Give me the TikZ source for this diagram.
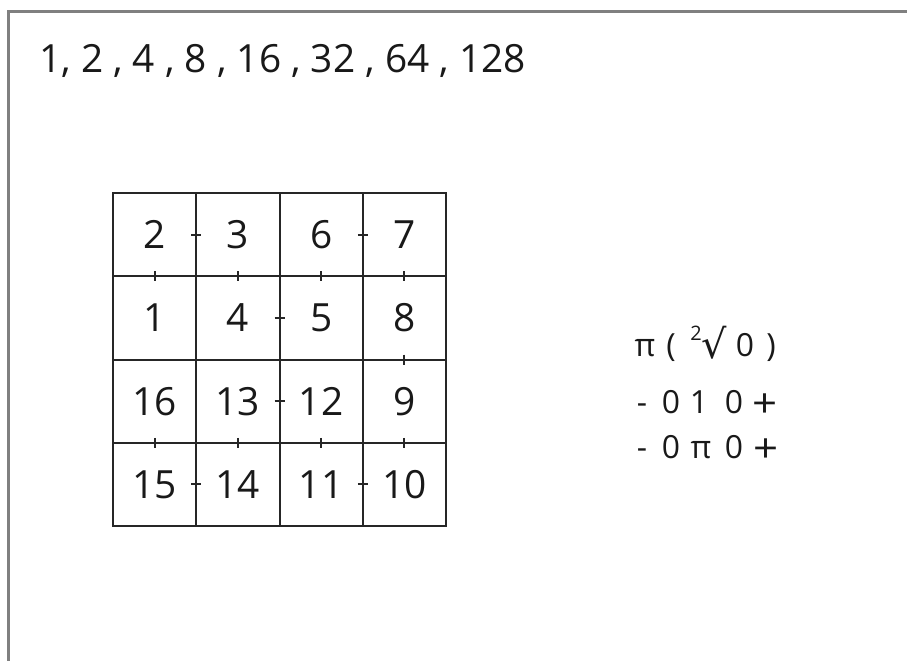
\documentclass[tikz,border=0pt]{standalone}
\usepackage{fontspec}
\usetikzlibrary{calc}
\setmainfont{Open Sans}
\newfontfamily\dejavu{DejaVu Sans}
\begin{document}
\begin{tikzpicture}[x=1bp,y=-1bp,
  cell/.style={draw=black!85,line width=2bp,minimum size=83.25bp,inner sep=0,outer sep=0,
     font=\fontsize{39}{39}\selectfont,text=black!90},
  tick/.style={draw=black!85,line width=2bp},
  frame/.style={draw=black!50,line width=2.8bp},
  bigtext/.style={font=\fontsize{39}{39}\selectfont,text=black!90,inner sep=0,anchor=base west},
  glyph/.style={font=\fontsize{32}{32}\selectfont,text=black!90,inner sep=0,anchor=base},
  plus/.style={font=\fontsize{40}{40}\selectfont,text=black!90,inner sep=0,anchor=base,xscale=1.1}]
\useasboundingbox (0,0) rectangle (907,661);
\fill[white] (0,0) rectangle (907,661);
\draw[frame] (8.5,670) -- (8.5,11.5) -- (915,11.5);
\node[bigtext] (seq) at (39,73) {1, 2 , 4 , 8 , 16 , 32 , 64 , 128};
% grid
\def\cs{83.25}
\foreach \r/\row in {0/{2,3,6,7},1/{1,4,5,8},2/{16,13,12,9},3/{15,14,11,10}}{
  \foreach \v [count=\c from 0] in \row {
    \node[cell] (c\r\c) at ({113+\cs*(\c+0.5)},{193+\cs*(\r+0.5)}) {\v};
  }
}
% ticks on vertical borders (horizontal marks)
\foreach \a in {c00,c02,c11,c21,c30,c32}{
  \draw[tick] ($(\a.east)+(-5,0)$) -- ($(\a.east)+(5,0)$);
}
% ticks on horizontal borders (vertical marks)
\foreach \a in {c00,c01,c02,c03,c13,c20,c21,c22,c23}{
  \draw[tick] ($(\a.south)+(0,-5)$) -- ($(\a.south)+(0,5)$);
}
% right-hand formulas
\node[glyph] (p1) at (645,356) {π};
\node[glyph] (p2) at (671,356) {(};
\node[glyph,font=\fontsize{20}{20}\selectfont] (p3) at (696,340) {2};
\node[glyph,font=\dejavu\fontsize{40}{40}\selectfont] (p4) at (714,358) {√};
\node[glyph] (p5) at (745,356) {0};
\node[glyph] (p6) at (771,356) {)};
\node[glyph] (a1) at (642,413) {-};
\node[glyph] (a2) at (671,413) {0};
\node[glyph] (a3) at (699,413) {1};
\node[glyph] (a4) at (734,413) {0};
\node[plus] (a5) at (765,417) {+};
\node[glyph] (b1) at (642,458) {-};
\node[glyph] (b2) at (671,458) {0};
\node[glyph] (b3) at (701,458) {π};
\node[glyph] (b4) at (734,458) {0};
\node[plus] (b5) at (766,462) {+};
\end{tikzpicture}
\end{document}
